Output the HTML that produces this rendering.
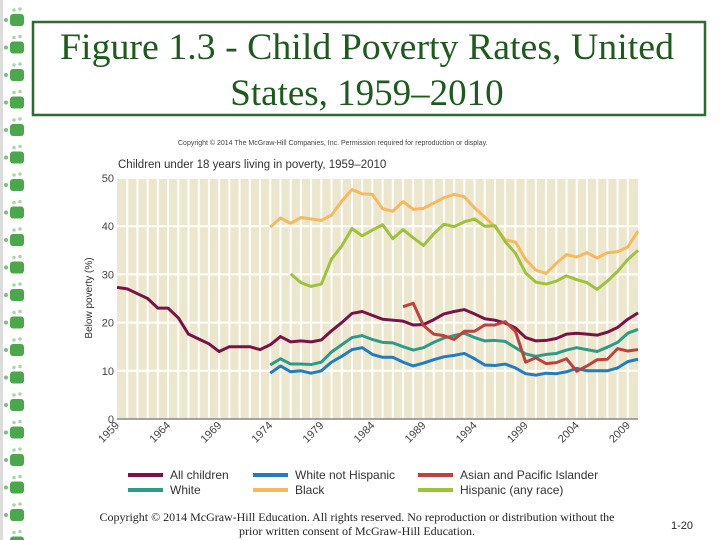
<!DOCTYPE html>
<html><head><meta charset="utf-8"><style>
html,body{margin:0;padding:0;background:#fff;}
svg{display:block;}
</style></head><body>
<svg id="c" width="720" height="540" viewBox="0 0 720 540" xmlns="http://www.w3.org/2000/svg" font-family="Liberation Sans, sans-serif">
<g id="deco"></g>
<rect x="33" y="22" width="672" height="93" fill="none" stroke="#2e6b2e" stroke-width="2.5"/>
<text x="367" y="59" text-anchor="middle" font-family="Liberation Serif, serif" font-size="37" textLength="614" lengthAdjust="spacingAndGlyphs" fill="#1d5a1d">Figure 1.3 - Child Poverty Rates, United</text>
<text x="367" y="105" text-anchor="middle" font-family="Liberation Serif, serif" font-size="37" fill="#1d5a1d">States, 1959–2010</text>
<text x="178" y="145" font-size="7" fill="#444">Copyright © 2014 The McGraw-Hill Companies, Inc. Permission required for reproduction or display.</text>
<text x="118" y="168" font-size="11.5" fill="#333">Children under 18 years living in poverty, 1959–2010</text>
<rect x="117" y="178" width="521" height="241" fill="#ece6cc"/>
<g id="grid"></g>
<g id="axes"></g>
<g id="series"></g>
<text transform="translate(92,298) rotate(-90)" text-anchor="middle" font-size="10" fill="#333">Below poverty (%)</text>
<g id="legend"></g>
<text x="357" y="521" text-anchor="middle" font-family="Liberation Serif, serif" font-size="12" textLength="515" lengthAdjust="spacingAndGlyphs" fill="#222">Copyright © 2014 McGraw-Hill Education. All rights reserved. No reproduction or distribution without the</text>
<text x="357" y="535" text-anchor="middle" font-family="Liberation Serif, serif" font-size="12" fill="#222">prior written consent of  McGraw-Hill Education.</text>
<text x="682" y="529" text-anchor="middle" font-size="11" fill="#222">1-20</text>
</svg>
<script>
const yTicks=[0,10,20,30,40,50];
const xTickYears=[1959,1964,1969,1974,1979,1984,1989,1994,1999,2004,2009];
const allChildren=[27.3,27,26,25,23,23,21,17.6,16.6,15.6,14,15,15,15,14.4,15.4,17.1,16,16.2,16,16.4,18.3,20,21.9,22.3,21.5,20.7,20.5,20.3,19.5,19.6,20.6,21.8,22.3,22.7,21.8,20.8,20.5,19.9,18.9,16.9,16.2,16.3,16.7,17.6,17.8,17.6,17.4,18,19,20.7,22];
const whiteNotHispanic=[9.5,11,9.8,10,9.5,10,11.8,13,14.4,14.8,13.4,12.8,12.8,11.8,11,11.6,12.3,12.9,13.2,13.6,12.5,11.2,11.1,11.4,10.6,9.4,9.1,9.5,9.4,9.8,10.5,10,10,10,10.6,11.9,12.4];
const white=[11.2,12.5,11.4,11.4,11.3,11.8,13.9,15.4,16.9,17.3,16.5,15.9,15.8,15,14.3,14.8,15.9,16.8,17.3,17.8,16.9,16.2,16.3,16.1,14.8,13.5,13.0,13.4,13.6,14.3,14.8,14.4,14,14.9,15.9,17.8,18.6];
const black=[39.8,41.7,40.6,41.8,41.5,41.2,42.3,45.2,47.6,46.7,46.6,43.6,43.1,45.1,43.5,43.7,44.8,45.9,46.6,46.1,43.8,41.9,39.9,37.2,36.7,33.1,30.9,30.2,32.3,34.1,33.6,34.5,33.4,34.5,34.7,35.7,39];
const hispanic=[30.1,28.3,27.5,28,33.2,35.9,39.5,38,39.2,40.3,37.4,39.3,37.6,36,38.4,40.4,39.9,40.9,41.5,40,40.1,36.8,34.4,30.3,28.4,28,28.6,29.7,28.9,28.3,26.9,28.6,30.6,33.1,35];
const asian=[23.3,24,19.4,17.6,17.3,16.5,18.2,18.2,19.5,19.5,20.2,18.2,11.8,12.7,11.5,11.7,12.5,9.9,11.0,12.3,12.4,14.6,14.1,14.4];
const NS='http://www.w3.org/2000/svg';
const x=yr=>117+(yr-1959)*(521/51);
const y=v=>419-v*(241/50);
function mk(t,a,p){const e=document.createElementNS(NS,t);for(const k in a)e.setAttribute(k,a[k]);p.appendChild(e);return e;}
const deco=document.getElementById('deco');
for(let i=0;i<20;i++){
 const g=mk('g',{},deco);
 
 
 const yy=8+i*27.5;
 mk('rect',{x:10,y:yy+6,width:14,height:12,rx:3,fill:'#4aa84a'},g);
 mk('circle',{cx:6,cy:yy+12,r:2,fill:'#7cc07c'},g);
 mk('circle',{cx:14,cy:yy+2,r:1.8,fill:'#a8d8a8'},g);
 mk('circle',{cx:20,cy:yy+1,r:1.8,fill:'#a8d8a8'},g);
}
mk('rect',{x:0,y:0,width:3,height:540,fill:'#dcdcdc'},deco);
const grid=document.getElementById('grid');
for(let yr=1960;yr<=2009;yr++){
 const l=mk('line',{x1:x(yr),x2:x(yr),y1:178,y2:419,stroke:'#fff','stroke-width':2},grid);
 
 
}
const axes=document.getElementById('axes');
yTicks.forEach(v=>{
 if(v>0){const l=mk('line',{x1:117,x2:638,y1:y(v),y2:y(v),stroke:'#fff','stroke-width':2},grid);
 
 }
 const t=mk('text',{x:114,y:y(v)+4,'text-anchor':'end','font-size':11,fill:'#444'},axes);
 t.textContent=v;
 
 
});
const base=mk('line',{x1:117,x2:638,y1:419,y2:419,stroke:'#888','stroke-width':1.5},axes);


xTickYears.forEach(yr=>{
 const t=mk('text',{x:x(yr)+3,y:426,'text-anchor':'end','font-size':11,fill:'#444',transform:`rotate(-45 ${x(yr)+3} 426)`},axes);
 t.textContent=yr;
 
 
});
const S=[
 ['all-children-line',allChildren,1959,'#7a1245','All children'],
 ['white-not-hispanic-line',whiteNotHispanic,1974,'#1f7dc0','White not Hispanic'],
 ['white-line',white,1974,'#2e9a88','White'],
 ['black-line',black,1974,'#f6b95f','Black'],
 ['hispanic-line',hispanic,1976,'#9dc23b','Hispanic (any race)'],
 ['asian-line',asian,1987,'#c0413b','Asian and Pacific Islander']
];
const ser=document.getElementById('series');
S.forEach(([n,d,s,c])=>{
 const p=mk('polyline',{points:d.map((v,i)=>x(s+i)+','+y(v)).join(' '),fill:'none',stroke:c,'stroke-width':3,'stroke-linejoin':'round'},ser);
 
 
});
const leg=document.getElementById('legend');
const L=[[0,128,475],[2,128,490],[1,253,475],[3,253,490],[5,418,475],[4,418,490]];
L.forEach(([i,lx,ly])=>{
 const g=mk('g',{},leg);
 
 
 mk('line',{x1:lx,x2:lx+35,y1:ly,y2:ly,stroke:S[i][3],'stroke-width':4},g);
 const t=mk('text',{x:lx+42,y:ly+4,'font-size':12,fill:'#333'},g);
 t.textContent=S[i][4];
});
</script>
</body></html>
